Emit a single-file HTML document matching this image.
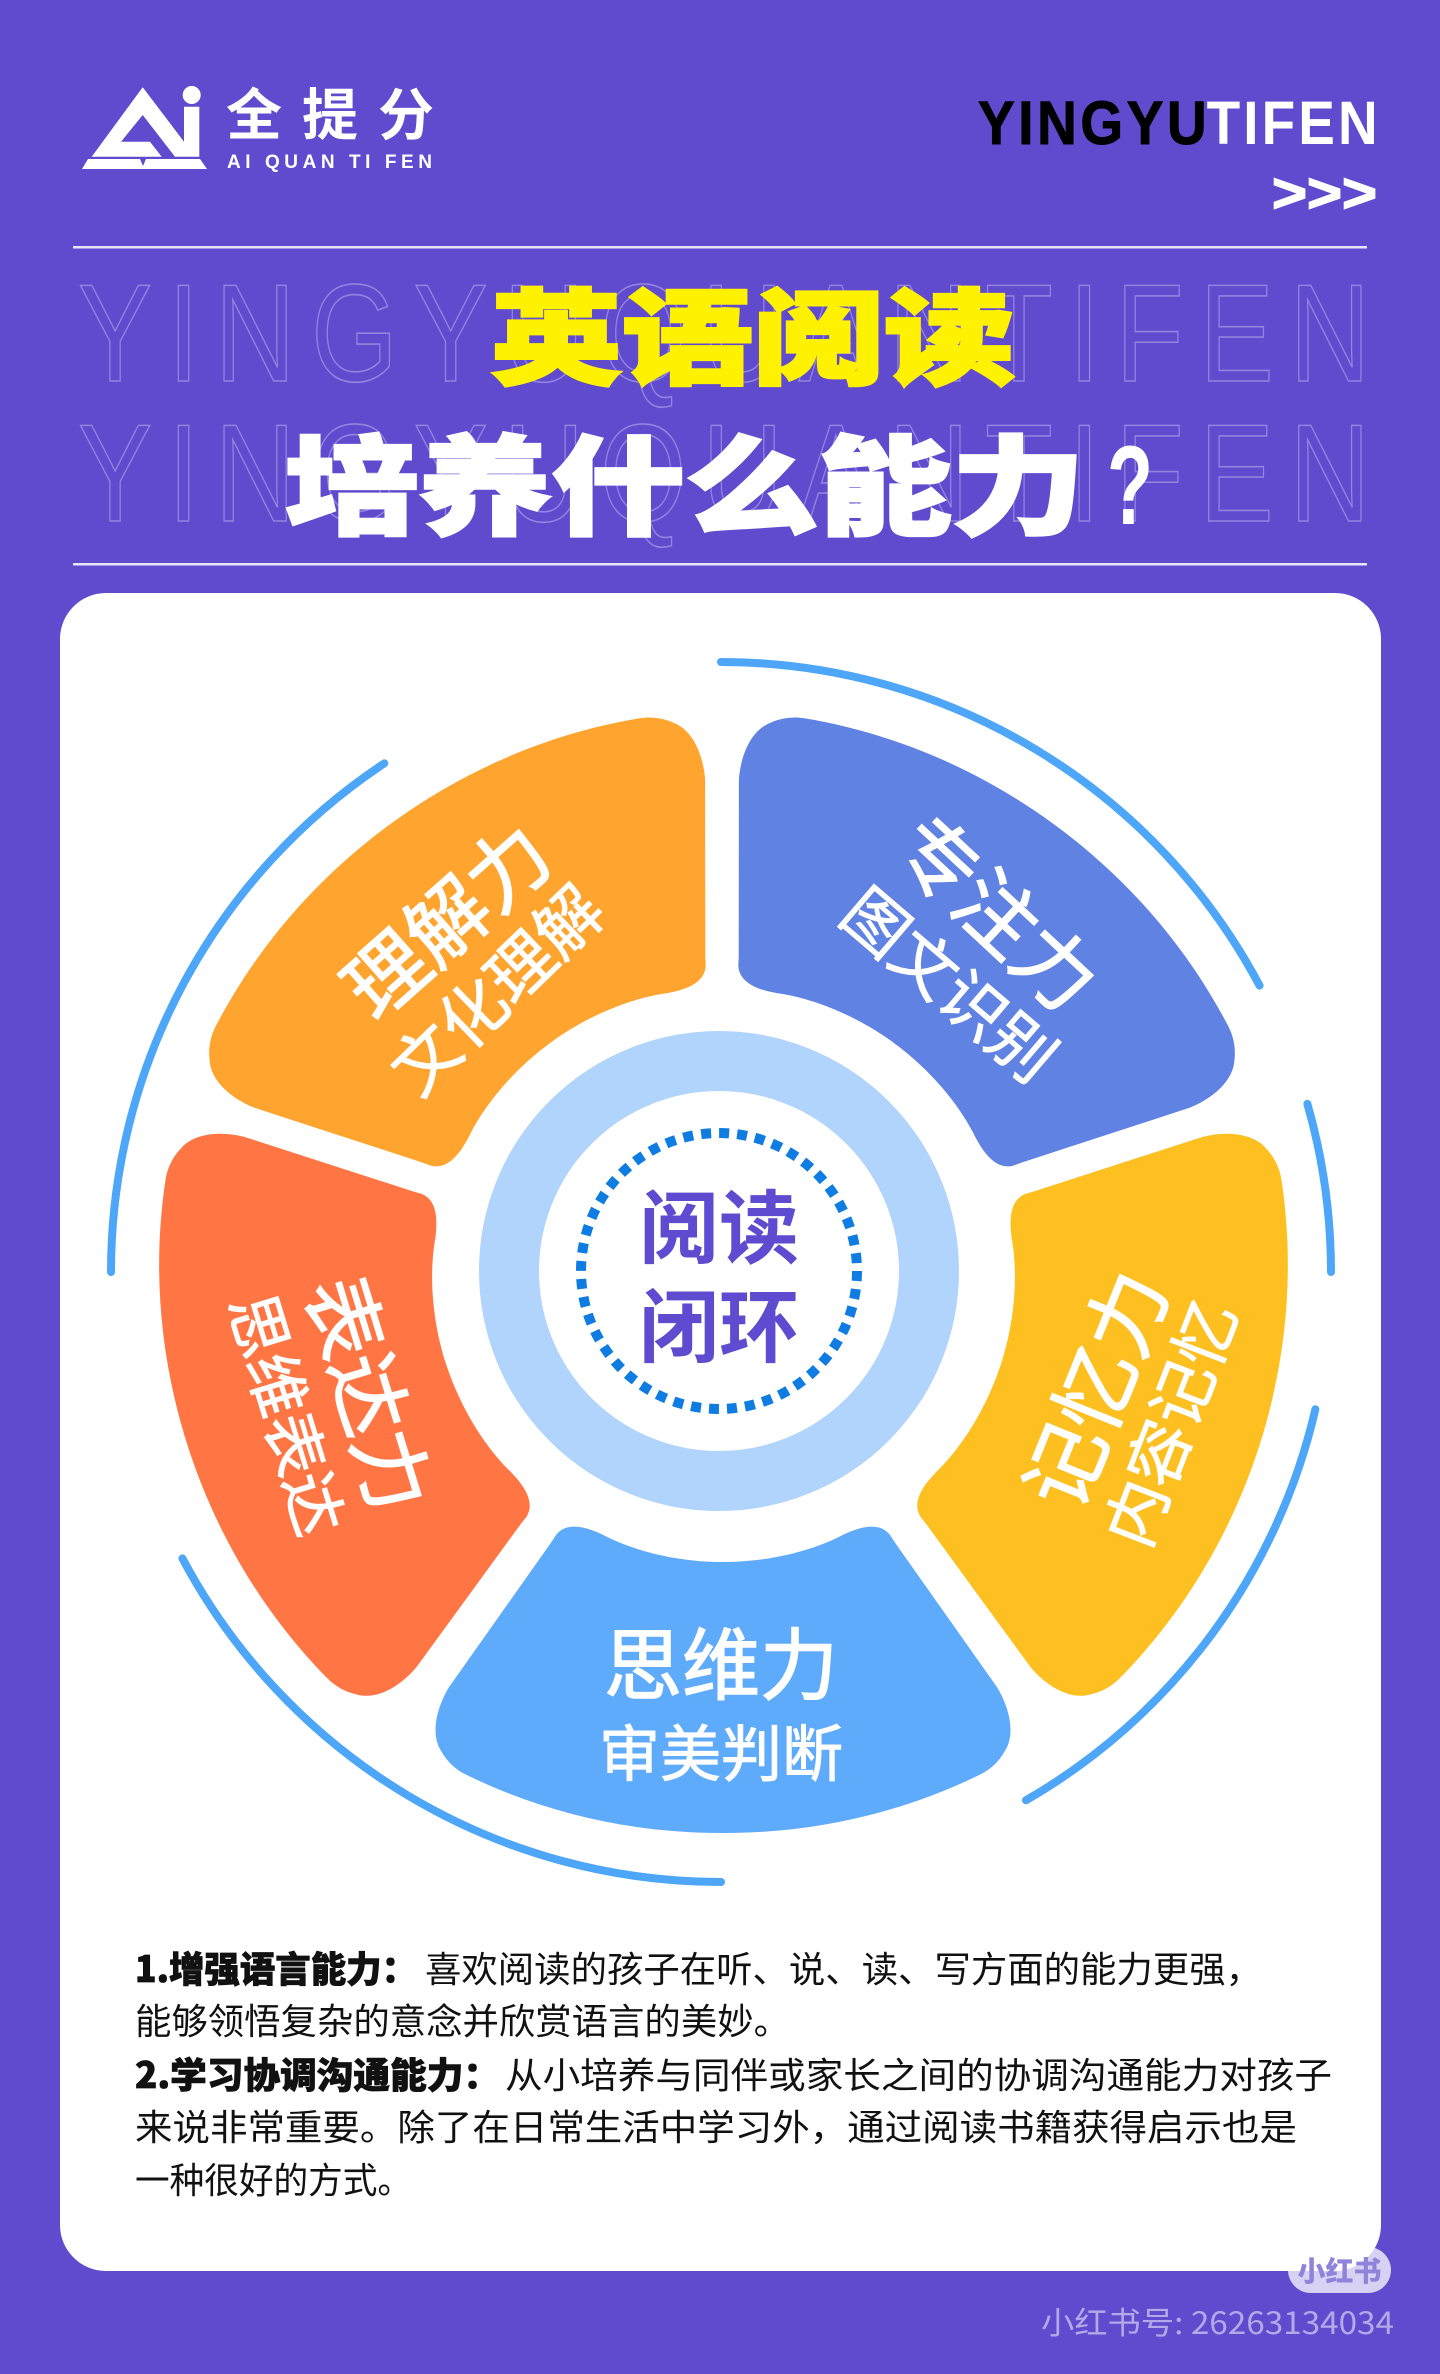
<!DOCTYPE html>
<html lang="zh-CN">
<head>
<meta charset="utf-8">
<title>英语阅读培养什么能力？</title>
<style>
html,body{margin:0;padding:0;background:#604bcf;}
body{width:1440px;height:2374px;overflow:hidden;}
svg{display:block;}
text{font-family:"Liberation Sans","Noto Sans CJK SC",sans-serif;}
.cjk{font-family:"Noto Sans CJK SC","Liberation Sans",sans-serif;}
</style>
</head>
<body>
<svg id="poster-svg" xmlns="http://www.w3.org/2000/svg" width="1440" height="2374" viewBox="0 0 1440 2374">
  <rect x="0" y="0" width="1440" height="2374" fill="#604bcf"/>

  <g fill="#fff">
    <path d="M142.7 87.3 L184 141.7 L184 106.7 L199.3 106.7 L199.3 156.7 L91.7 156.7 Z M142.7 115 L121 141.7 L150 141.7 L161.7 156.7 L175 156.7 Z" fill-rule="evenodd"/>
    <circle cx="191.7" cy="95" r="9"/>
    <path d="M88 159 L140 159 L143 166 L146 159 L200 159 L207 169 L82 169 Z"/>
    <text class="cjk" x="226" y="135" font-size="56" font-weight="700" textLength="208" lengthAdjust="spacing">全提分</text>
    <text x="227" y="168" font-size="19" font-weight="700" textLength="205" lengthAdjust="spacing">AI QUAN TI FEN</text>
  </g>

  <g font-weight="700" font-size="61">
    <g transform="translate(978 144) scale(0.9 1)">
      <text x="0" y="0" fill="#000" stroke="#000" stroke-width="1" textLength="254" lengthAdjust="spacing">YINGYU</text>
      <text x="254" y="0" fill="#fff" textLength="190" lengthAdjust="spacing">TIFEN</text>
    </g>
    <text x="1272" y="212" fill="#fff" stroke="#fff" stroke-width="1.5" font-size="56" textLength="105" lengthAdjust="spacingAndGlyphs">&gt;&gt;&gt;</text>
  </g>

  <rect x="73" y="246" width="1294" height="2.5" fill="#e8e4fa"/>
  <rect x="73" y="563" width="1294" height="2.5" fill="#e8e4fa"/>

  <g fill="none" stroke="#ffffff" stroke-opacity="0.32" stroke-width="1.6" font-size="139">
    <text transform="translate(78 381) scale(0.8 1)" x="0" y="0" textLength="1615" lengthAdjust="spacing">YINGYUQUANTIFEN</text>
    <text transform="translate(78 521) scale(0.8 1)" x="0" y="0" textLength="1615" lengthAdjust="spacing">YINGYUQUANTIFEN</text>
  </g>

  <text class="cjk" x="491" y="376" font-size="104" font-weight="900" fill="#fff200" stroke="#fff200" stroke-width="3" textLength="524" lengthAdjust="spacingAndGlyphs">英语阅读</text>
  <text class="cjk" x="285" y="526" font-size="108" font-weight="900" fill="#fff" stroke="#fff" stroke-width="3" textLength="800" lengthAdjust="spacingAndGlyphs">培养什么能力</text>
  <text x="1107" y="524" font-size="112" font-weight="700" fill="#fff" textLength="46" lengthAdjust="spacingAndGlyphs">?</text>

  <rect x="60" y="593" width="1321" height="1678" rx="46" ry="46" fill="#fff"/>

  <g id="guide-arcs"></g>
  <g id="wheel-slices"></g>

  <g>
    <circle cx="719" cy="1271" r="210" fill="none" stroke="#b0d4fc" stroke-width="60"/>
    <circle cx="719" cy="1271" r="138" fill="none" stroke="#0f7ce2" stroke-width="10" stroke-dasharray="10 8.06"/>
    <text class="cjk" x="719" y="1223" font-size="80" font-weight="700" fill="#5f4bcf" text-anchor="middle" dominant-baseline="central">阅读</text>
    <text class="cjk" x="719" y="1322" font-size="80" font-weight="700" fill="#5f4bcf" text-anchor="middle" dominant-baseline="central">闭环</text>
  </g>

  <g fill="#111" font-size="36">
    <text class="cjk" x="135" y="1982" font-weight="900" stroke="#111" stroke-width="0.8" textLength="282" lengthAdjust="spacingAndGlyphs">1.增强语言能力：</text>
    <text class="cjk" x="425" y="1982" textLength="837" lengthAdjust="spacingAndGlyphs">喜欢阅读的孩子在听、说、读、写方面的能力更强，</text>
    <text class="cjk" x="135" y="2034" textLength="655" lengthAdjust="spacingAndGlyphs">能够领悟复杂的意念并欣赏语言的美妙。</text>
    <text class="cjk" x="135" y="2088" font-weight="900" stroke="#111" stroke-width="0.8" textLength="365" lengthAdjust="spacingAndGlyphs">2.学习协调沟通能力：</text>
    <text class="cjk" x="505" y="2088" textLength="827" lengthAdjust="spacingAndGlyphs">从小培养与同伴或家长之间的协调沟通能力对孩子</text>
    <text class="cjk" x="135" y="2140" textLength="1162" lengthAdjust="spacingAndGlyphs">来说非常重要。除了在日常生活中学习外，通过阅读书籍获得启示也是</text>
    <text class="cjk" x="135" y="2193" textLength="277" lengthAdjust="spacingAndGlyphs">一种很好的方式。</text>
  </g>

  <g>
    <rect x="1288" y="2247" width="103" height="46" rx="23" ry="23" fill="#fff" fill-opacity="0.75"/>
    <text class="cjk" x="1339.5" y="2270" font-size="28" font-weight="900" fill="#8f83dc" text-anchor="middle" dominant-baseline="central">小红书</text>
    <text class="cjk" x="1041" y="2334" font-size="31" fill="#b3a9e8" textLength="353" lengthAdjust="spacingAndGlyphs">小红书号: 26263134034</text>
  </g>
</svg>

<script>
const abilityNames = ['专注力', '记忆力', '思维力', '表达力', '理解力'];
const abilityDetails = ['图文识别', '内容记忆', '审美判断', '思维表达', '文化理解'];
const abilityShares = [20, 20, 20, 20, 20];
const arcStartDegrees = [0, 74, 103, 180, 270];
const arcEndDegrees = [62, 90, 150, 242, 326.5];

const SVG_NS = 'http://www.w3.org/2000/svg';

function polarPoint(radius, clockDeg) {
  const a = clockDeg * Math.PI / 180;
  return [719 + radius * Math.sin(a), 1271 - radius * Math.cos(a)];
}

function slicePath(midDeg, halfSpanDeg) {
  const mapPoint = function (x, y) {
    const r = Math.hypot(x, y);
    const th = Math.atan2(x, y) * 180 / Math.PI;
    const p = polarPoint(r, midDeg - th * (halfSpanDeg / 36));
    return p[0].toFixed(1) + ' ' + p[1].toFixed(1);
  };
  const curve = function (a, b, c, d, e, f) {
    return 'C' + mapPoint(a, b) + ' ' + mapPoint(c, d) + ' ' + mapPoint(e, f) + ' ';
  };
  return 'M' + mapPoint(0, 289) + ' ' +
    curve(45, 289, 88, 278, 118, 263) +
    curve(135, 254, 158, 245, 170, 260) +
    'L' + mapPoint(175, 267.5) + ' ' +
    'L' + mapPoint(279, 411) + ' ' +
    curve(292, 432, 298, 458, 287, 475) +
    curve(281, 486, 272, 494, 262, 499) +
    curve(180, 540, 90, 560, 0, 560) +
    curve(-90, 560, -180, 540, -262, 499) +
    curve(-272, 494, -281, 486, -287, 475) +
    curve(-298, 458, -292, 432, -279, 411) +
    'L' + mapPoint(-175, 267.5) + ' ' +
    'L' + mapPoint(-170, 260) + ' ' +
    curve(-158, 245, -135, 254, -118, 263) +
    curve(-88, 278, -45, 289, 0, 289) + 'Z';
}

function drawGuideArcs() {
  const host = document.getElementById('guide-arcs');
  arcStartDegrees.forEach(function (start, i) {
    const end = arcEndDegrees[i];
    const a0 = start * Math.PI / 180;
    const a1 = end * Math.PI / 180;
    const x0 = 721 + 610 * Math.sin(a0);
    const y0 = 1272 - 610 * Math.cos(a0);
    const x1 = 721 + 610 * Math.sin(a1);
    const y1 = 1272 - 610 * Math.cos(a1);
    const large = end - start > 180 ? 1 : 0;
    const arc = document.createElementNS(SVG_NS, 'path');
    arc.setAttribute('d', 'M' + x0 + ' ' + y0 + ' A610 610 0 ' + large + ' 1 ' + x1 + ' ' + y1);
    arc.setAttribute('fill', 'none');
    arc.setAttribute('stroke', '#4da6f8');
    arc.setAttribute('stroke-width', '8');
    arc.setAttribute('stroke-linecap', 'round');
    
    
    host.appendChild(arc);
  });
}

function drawWheel() {
  const host = document.getElementById('wheel-slices');
  const sliceColors = ['#5f82e3', '#febf20', '#5fabfb', '#ff7644', '#ffa42f'];
  const sliceNudges = [[4, 5], [7, 4], [4, 2], [2, 4], [2, 5]];
  const spanTrim = [1, 1, 0.98, 1, 1];
  const mainNudges = [[13, 8], [5, -3], [2, 3], [21, 2], [-7, 15]];
  const subNudges = [[14, 12], [-4, 4], [2, 2], [24, -5], [-6, 17]];
  const mainTurns = [43, -68, 0, 73, -41.5];
  const subTurns = [40.5, -69, 0, 73, -44];
  const mainSizes = [80, 82, 78, 80, 81];
  const subSizes = [64, 64, 61, 62, 66];
  const total = abilityShares.reduce(function (s, v) { return s + v; }, 0);
  let cumulative = 0;
  abilityShares.forEach(function (share, i) {
    const span = share / total * 360;
    const mid = cumulative + span / 2;
    cumulative += span;

    const slice = document.createElementNS(SVG_NS, 'path');
    slice.setAttribute('d', slicePath(mid, span / 2 * spanTrim[i]));
    slice.setAttribute('fill', sliceColors[i % sliceColors.length]);
    slice.setAttribute('transform', 'translate(' + sliceNudges[i][0] + ' ' + sliceNudges[i][1] + ')');
    
    
    host.appendChild(slice);

    const isUpper = mid < 90 || mid > 270;
    const mainPolar = polarPoint(isUpper ? 456 : 386, mid);
    const subPolar = polarPoint(isUpper ? 372 : 476, mid);
    const mainX = mainPolar[0] + mainNudges[i][0];
    const mainY = mainPolar[1] + mainNudges[i][1];
    const subX = subPolar[0] + subNudges[i][0];
    const subY = subPolar[1] + subNudges[i][1];

    const mainLabel = document.createElementNS(SVG_NS, 'text');
    mainLabel.textContent = abilityNames[i];
    mainLabel.setAttribute('class', 'cjk');
    mainLabel.setAttribute('x', mainX);
    mainLabel.setAttribute('y', mainY);
    mainLabel.setAttribute('font-size', mainSizes[i]);
    mainLabel.setAttribute('fill', '#fff');
    mainLabel.setAttribute('stroke', '#fff');
    mainLabel.setAttribute('stroke-width', '1.5');
    mainLabel.setAttribute('text-anchor', 'middle');
    mainLabel.setAttribute('dominant-baseline', 'central');
    mainLabel.setAttribute('transform', 'rotate(' + mainTurns[i] + ' ' + mainX + ' ' + mainY + ')');
    
    
    host.appendChild(mainLabel);

    const subLabel = document.createElementNS(SVG_NS, 'text');
    subLabel.textContent = abilityDetails[i];
    subLabel.setAttribute('class', 'cjk');
    subLabel.setAttribute('x', subX);
    subLabel.setAttribute('y', subY);
    subLabel.setAttribute('font-size', subSizes[i]);
    subLabel.setAttribute('fill', '#fff');
    subLabel.setAttribute('stroke', '#fff');
    subLabel.setAttribute('stroke-width', '1');
    subLabel.setAttribute('text-anchor', 'middle');
    subLabel.setAttribute('dominant-baseline', 'central');
    subLabel.setAttribute('transform', 'rotate(' + subTurns[i] + ' ' + subX + ' ' + subY + ')');
    
    
    host.appendChild(subLabel);
  });
}

drawGuideArcs();
drawWheel();
</script>
</body>
</html>
